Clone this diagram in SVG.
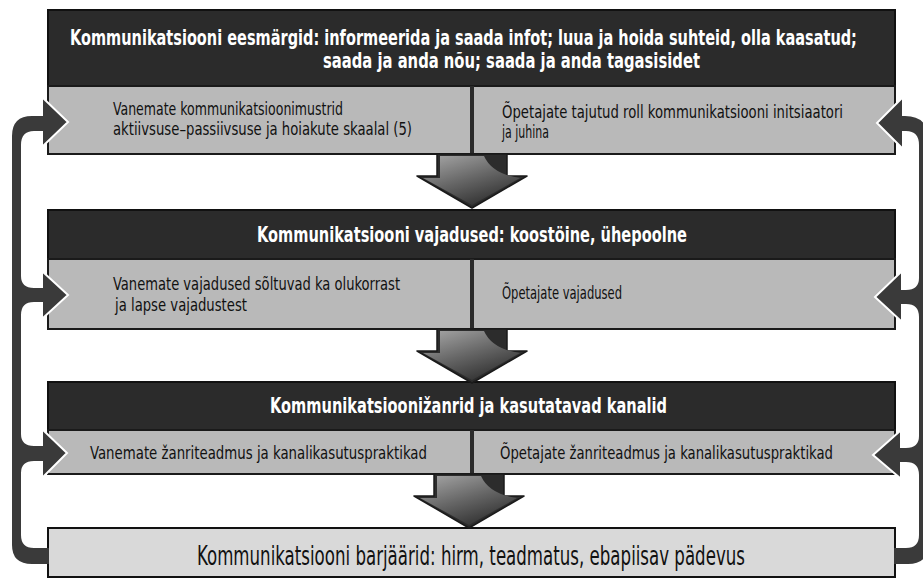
<svg xmlns="http://www.w3.org/2000/svg" width="923" height="579" viewBox="0 0 923 579">
  <defs>
    <style>
      .hdr { fill: #2b2b2b; stroke: #111; stroke-width: 2; }
      .row { fill: #b9b9b9; stroke: #1a1a1a; stroke-width: 2; }
      .base { fill: #d9d9d9; stroke: #111; stroke-width: 2; }
      .div { stroke: #2b2b2b; stroke-width: 4; }
      .ht { font-family: "DejaVu Sans Condensed", "Liberation Sans Narrow", "Liberation Sans", sans-serif; font-weight: bold; font-size: 21px; fill: #ffffff; }
      .rt { font-family: "DejaVu Sans Condensed", "Liberation Sans Narrow", "Liberation Sans", sans-serif; font-size: 18px; fill: #111; }
      .bt { font-family: "DejaVu Sans Condensed", "Liberation Sans Narrow", "Liberation Sans", sans-serif; font-size: 26px; fill: #111; }
      .bar { fill: #3a3a3a; }
      .head { fill: #3a3a3a; }
      .edge { fill: none; stroke: #ffffff; stroke-width: 2; stroke-linejoin: miter; }
    </style>
    <linearGradient id="sheen" x1="0" y1="0" x2="0.6" y2="1">
      <stop offset="0" stop-color="#a8a8a8"/>
      <stop offset="0.55" stop-color="#666"/>
      <stop offset="1" stop-color="#333"/>
    </linearGradient>
    <g id="down">
      <path d="M-35,0 H35 V22 H55 L0,54 L-55,22 H-35 Z" fill="#2c2c2c" stroke="#1a1a1a" stroke-width="1.5" stroke-linejoin="round"/>
      <path d="M-32,2 H12 Q20,20 48,24 L0,51 L-49,24 H-32 Z" fill="url(#sheen)"/>
    </g>
  </defs>
  <rect width="923" height="579" fill="#ffffff"/>

  <!-- level 1: goals -->
  <g id="goals">
    <rect class="hdr" x="48" y="10" width="847" height="76"/>
    <text class="ht" transform="translate(70,45) scale(0.77,1)" textLength="1022" lengthAdjust="spacingAndGlyphs">Kommunikatsiooni eesmärgid: informeerida ja saada infot; luua ja hoida suhteid, olla kaasatud;</text>
    <text class="ht" transform="translate(323,68) scale(0.77,1)" textLength="489.6" lengthAdjust="spacingAndGlyphs">saada ja anda nõu; saada ja anda tagasisidet</text>
    <rect class="row" x="48" y="86" width="847" height="68"/>
    <line class="div" x1="472" y1="86" x2="472" y2="154"/>
    <text class="rt" transform="translate(113,115) scale(0.75,1)" textLength="306.7" lengthAdjust="spacingAndGlyphs">Vanemate kommunikatsioonimustrid</text>
    <text class="rt" transform="translate(113,135) scale(0.75,1)" textLength="398.7" lengthAdjust="spacingAndGlyphs">aktiivsuse–passiivsuse ja hoiakute skaalal (5)</text>
    <text class="rt" transform="translate(502,118) scale(0.75,1)" textLength="454.7" lengthAdjust="spacingAndGlyphs">Õpetajate tajutud roll kommunikatsiooni initsiaatori</text>
    <text class="rt" transform="translate(502,138) scale(0.75,1)" textLength="62.7" lengthAdjust="spacingAndGlyphs">ja juhina</text>
  </g>

  <!-- level 2: needs -->
  <g id="needs">
    <rect class="hdr" x="48" y="210" width="847" height="49"/>
    <text class="ht" transform="translate(257,242) scale(0.77,1)" textLength="558.4" lengthAdjust="spacingAndGlyphs">Kommunikatsiooni vajadused: koostöine, ühepoolne</text>
    <rect class="row" x="48" y="259" width="847" height="70"/>
    <line class="div" x1="472" y1="259" x2="472" y2="329"/>
    <text class="rt" transform="translate(113,290) scale(0.75,1)" textLength="382.7" lengthAdjust="spacingAndGlyphs">Vanemate vajadused sõltuvad ka olukorrast</text>
    <text class="rt" transform="translate(115,311) scale(0.75,1)" textLength="176" lengthAdjust="spacingAndGlyphs">ja lapse vajadustest</text>
    <text class="rt" transform="translate(502,299) scale(0.75,1)" textLength="160" lengthAdjust="spacingAndGlyphs">Õpetajate vajadused</text>
  </g>

  <!-- level 3: genres and channels -->
  <g id="genres">
    <rect class="hdr" x="48" y="382" width="847" height="48"/>
    <text class="ht" transform="translate(270,413) scale(0.77,1)" textLength="515.6" lengthAdjust="spacingAndGlyphs">Kommunikatsioonižanrid  ja kasutatavad kanalid</text>
    <rect class="row" x="48" y="430" width="847" height="44"/>
    <line class="div" x1="472" y1="430" x2="472" y2="474"/>
    <text class="rt" transform="translate(90,459) scale(0.75,1)" textLength="449.3" lengthAdjust="spacingAndGlyphs">Vanemate  žanriteadmus  ja kanalikasutuspraktikad</text>
    <text class="rt" transform="translate(500,459) scale(0.75,1)" textLength="444" lengthAdjust="spacingAndGlyphs">Õpetajate žanriteadmus  ja kanalikasutuspraktikad</text>
  </g>

  <!-- base: barriers -->
  <g id="barriers">
    <rect class="base" x="48" y="528" width="847" height="49"/>
    <text class="bt" transform="translate(197,565) scale(0.71,1)" textLength="771.8" lengthAdjust="spacingAndGlyphs">Kommunikatsiooni barjäärid: hirm, teadmatus, ebapiisav pädevus</text>
  </g>

  <g id="connectors">
    <!-- downward flow arrows -->
    <use href="#down" transform="translate(472,154)"/>
    <use href="#down" transform="translate(472,329)"/>
    <use href="#down" transform="translate(469,474)"/>

    <!-- left feedback loop -->
    <path class="bar" d="M46,116 L32,116 Q12,116 12,136 L12,545 Q12,564 32,564 L49,564 L49,548 L34,548 Q21,548 21,535 L21,145 Q21,131 34,131 L46,131 Z"/>
    <path class="bar" d="M21,276 Q21,288 34,288 L46,288 L46,302 L34,302 Q21,302 21,315 Z"/>
    <path class="bar" d="M21,434 Q21,446 34,446 L46,446 L46,461 L34,461 Q21,461 21,473 Z"/>
    <polygon class="head" points="43,98 68,122 43,146"/>
    <polyline class="edge" points="43,98 68,122 43,146"/>
    <polygon class="head" points="43,272 68,295 43,318"/>
    <polyline class="edge" points="43,272 68,295 43,318"/>
    <polygon class="head" points="43,430 67,453 43,477"/>
    <polyline class="edge" points="43,430 67,453 43,477"/>

    <!-- right feedback loop -->
    <path class="bar" d="M900,116 L905,116 Q928,116 928,139 L928,545 Q928,564 908,564 L894,564 L894,548 L906,548 Q919,548 919,535 L919,145 Q919,131 906,131 L900,131 Z"/>
    <path class="bar" d="M919,278 Q919,290 906,290 L898,290 L898,304 L906,304 Q919,304 919,317 Z"/>
    <path class="bar" d="M919,436 Q919,448 906,448 L898,448 L898,462 L906,462 Q919,462 919,475 Z"/>
    <polygon class="head" points="902,98 877,123 902,148"/>
    <polyline class="edge" points="902,98 877,123 902,148"/>
    <polygon class="head" points="901,272 875,297 901,321"/>
    <polyline class="edge" points="901,272 875,297 901,321"/>
    <polygon class="head" points="900,431 873,455 900,478"/>
    <polyline class="edge" points="900,431 873,455 900,478"/>
  </g>
</svg>
